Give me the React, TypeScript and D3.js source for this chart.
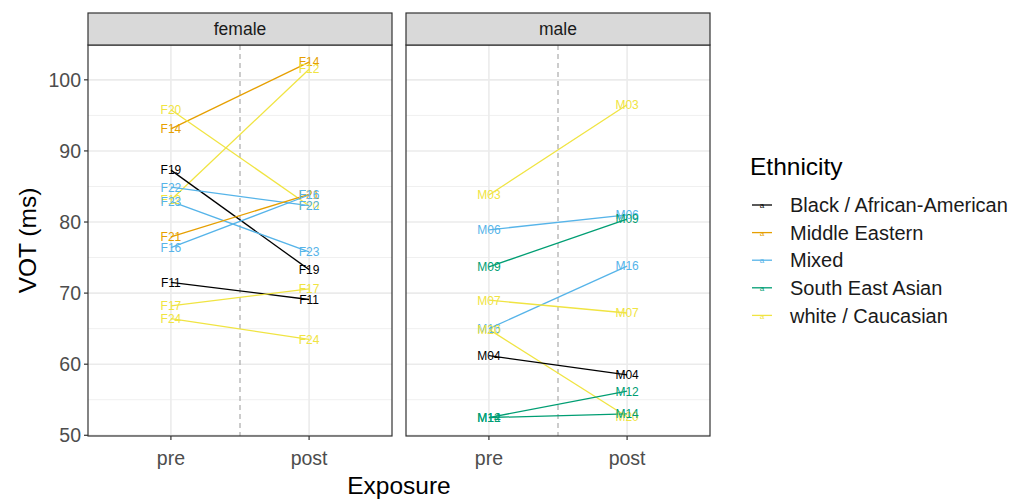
import { useEffect, useRef } from "react";
import * as d3 from "d3";

// per-speaker VOT before / after exposure
const speakers = ["F14", "F20", "F12", "F19", "F22", "F23", "F21", "F16", "F11", "F17", "F24",
  "M03", "M06", "M09", "M16", "M07", "M20", "M04", "M12", "M14"];
const gender = ["female", "female", "female", "female", "female", "female", "female", "female", "female", "female", "female",
  "male", "male", "male", "male", "male", "male", "male", "male", "male"];
const ethnicity = ["Middle Eastern", "white / Caucasian", "white / Caucasian", "Black / African-American", "Mixed", "Mixed",
  "Middle Eastern", "Mixed", "Black / African-American", "white / Caucasian", "white / Caucasian",
  "white / Caucasian", "Mixed", "South East Asian", "Mixed", "white / Caucasian", "white / Caucasian",
  "Black / African-American", "South East Asian", "South East Asian"];
const preVot = [93.1, 95.8, 83.1, 87.3, 84.9, 82.9, 77.9, 76.4, 71.5, 68.2, 66.4,
  83.8, 78.9, 73.7, 65.0, 69.0, 64.9, 61.2, 52.5, 52.5];
const postVot = [102.5, 82.3, 101.5, 73.3, 82.3, 75.8, 83.9, 83.8, 69.1, 70.6, 63.5,
  96.5, 81.0, 80.4, 73.8, 67.2, 52.6, 58.5, 56.2, 53.0];

const panels = ["female", "male"];
const exposure = ["pre", "post"];
const groups = ["Black / African-American", "Middle Eastern", "Mixed", "South East Asian", "white / Caucasian"];
const palette = ["#000000", "#E69F00", "#56B4E9", "#009E73", "#F0E442"];
const yTicks = [50, 60, 70, 80, 90, 100];
const yMinor = [55, 65, 75, 85, 95, 105];

export default function App() {
  const svgRef = useRef<SVGSVGElement>(null);

  useEffect(() => {
    const svg = d3.select(svgRef.current);
    svg.selectAll("*").remove();

    const top = 45, bottom = 436;
    const panelX = [[88, 392], [406, 710]];
    const font = "Liberation Sans, Arial, sans-serif";
    const axisSize = 19.5, titleSize = 24.5;

    const y = d3.scaleLinear().domain([49.9, 104.9]).range([bottom, top]);
    const color = d3.scaleOrdinal<string, string>().domain(groups).range(palette);

    panels.forEach((p, pi) => {
      const [x0, x1] = panelX[pi];
      // discrete axis: 2 levels with 0.6 additive expansion
      const x = d3.scaleLinear().domain([0.4, 2.6]).range([x0, x1]);
      const g = svg.append("g");

      g.append("rect").attr("x", x0).attr("y", top).attr("width", x1 - x0).attr("height", bottom - top).attr("fill", "#fff");

      yMinor.forEach(v => {
        g.append("line").attr("x1", x0).attr("x2", x1).attr("y1", y(v)).attr("y2", y(v))
          .attr("stroke", "#F0F0F0").attr("stroke-width", 1);
      });
      yTicks.forEach(v => {
        g.append("line").attr("x1", x0).attr("x2", x1).attr("y1", y(v)).attr("y2", y(v))
          .attr("stroke", "#EBEBEB").attr("stroke-width", 1.6);
      });
      exposure.forEach((e, i) => {
        g.append("line").attr("x1", x(i + 1)).attr("x2", x(i + 1)).attr("y1", top).attr("y2", bottom)
          .attr("stroke", "#EBEBEB").attr("stroke-width", 1.6);
      });

      g.append("line").attr("x1", x(1.5)).attr("x2", x(1.5)).attr("y1", top).attr("y2", bottom)
        .attr("stroke", "#ABABAB").attr("stroke-width", 1.2).attr("stroke-dasharray", "5,4");

      const idx = speakers.map((s, i) => i).filter(i => gender[i] === p);

      idx.forEach(i => {
        g.append("line")
          .attr("x1", x(1)).attr("y1", y(preVot[i]))
          .attr("x2", x(2)).attr("y2", y(postVot[i]))
          .attr("stroke", color(ethnicity[i])).attr("stroke-width", 1.3);
      });
      idx.forEach(i => {
        [preVot[i], postVot[i]].forEach((v, k) => {
          g.append("text").attr("x", x(k + 1)).attr("y", y(v)).attr("dy", "0.36em")
            .attr("text-anchor", "middle").attr("font-family", font).attr("font-size", 12)
            .attr("fill", color(ethnicity[i])).text(speakers[i]);
        });
      });

      g.append("rect").attr("x", x0).attr("y", top).attr("width", x1 - x0).attr("height", bottom - top)
        .attr("fill", "none").attr("stroke", "#333").attr("stroke-width", 1.2);

      // strip
      g.append("rect").attr("x", x0).attr("y", 13).attr("width", x1 - x0).attr("height", top - 13)
        .attr("fill", "#D9D9D9").attr("stroke", "#333").attr("stroke-width", 1.2);
      g.append("text").attr("x", (x0 + x1) / 2).attr("y", 29).attr("dy", "0.36em").attr("text-anchor", "middle")
        .attr("font-family", font).attr("font-size", 17.5).attr("fill", "#1A1A1A").text(p);

      // x axis
      exposure.forEach((e, i) => {
        g.append("line").attr("x1", x(i + 1)).attr("x2", x(i + 1)).attr("y1", bottom).attr("y2", bottom + 4)
          .attr("stroke", "#333").attr("stroke-width", 1.2);
        g.append("text").attr("x", x(i + 1)).attr("y", 458).attr("dy", "0.36em").attr("text-anchor", "middle")
          .attr("font-family", font).attr("font-size", axisSize).attr("fill", "#4D4D4D").text(e);
      });

      if (pi === 0) {
        yTicks.forEach(v => {
          g.append("line").attr("x1", x0 - 4).attr("x2", x0).attr("y1", y(v)).attr("y2", y(v))
            .attr("stroke", "#333").attr("stroke-width", 1.2);
          g.append("text").attr("x", x0 - 7).attr("y", y(v)).attr("dy", "0.36em").attr("text-anchor", "end")
            .attr("font-family", font).attr("font-size", axisSize).attr("fill", "#4D4D4D").text(v);
        });
      }
    });

    svg.append("text").attr("x", 399).attr("y", 485).attr("dy", "0.36em").attr("text-anchor", "middle")
      .attr("font-family", font).attr("font-size", titleSize).attr("fill", "#000").text("Exposure");
    svg.append("text").attr("transform", `translate(27,${(top + bottom) / 2}) rotate(-90)`).attr("dy", "0.36em")
      .attr("text-anchor", "middle").attr("font-family", font).attr("font-size", titleSize).attr("fill", "#000").text("VOT (ms)");

    // legend
    const lg = svg.append("g");
    lg.append("text").attr("x", 750).attr("y", 166).attr("dy", "0.36em").attr("font-family", font)
      .attr("font-size", titleSize).attr("fill", "#000").text("Ethnicity");
    groups.forEach((gr, i) => {
      const cy = 205 + i * 27.6;
      lg.append("line").attr("x1", 752).attr("x2", 772).attr("y1", cy).attr("y2", cy)
        .attr("stroke", color(gr)).attr("stroke-width", 1.3);
      lg.append("text").attr("x", 762).attr("y", cy).attr("dy", "0.4em").attr("text-anchor", "middle")
        .attr("font-family", font).attr("font-size", 8).attr("fill", color(gr)).text("a");
      lg.append("text").attr("x", 790).attr("y", cy).attr("dy", "0.36em").attr("font-family", font)
        .attr("font-size", 20).attr("fill", "#1A1A1A").text(gr);
    });
  }, []);

  return (
    <div style={{ position: "absolute", left: 0, top: 0 }}>
      <svg ref={svgRef} width={1014} height={499} style={{ display: "block", background: "#fff" }} />
    </div>
  );
}
